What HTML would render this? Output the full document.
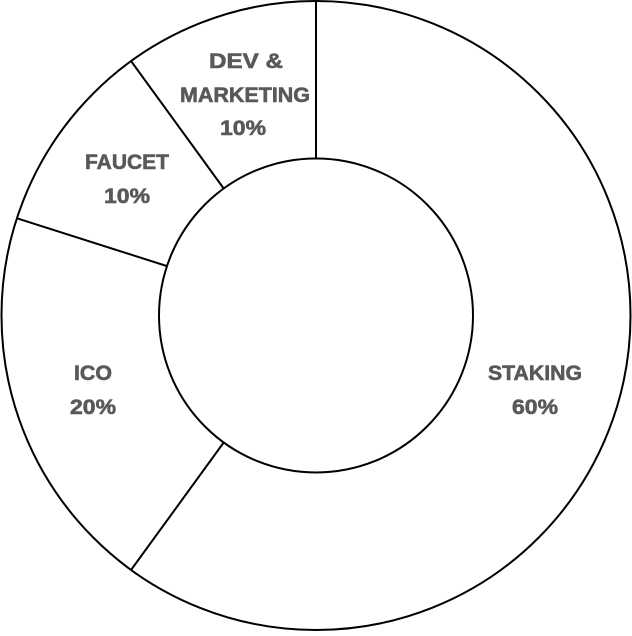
<!DOCTYPE html>
<html><head><style>html,body{margin:0;padding:0;background:#fff;}
text{font-family:"Liberation Sans",sans-serif;font-weight:bold;font-size:21px;fill:#595959;stroke:#595959;stroke-width:0.6px;}</style></head>
<body>
<svg width="632" height="631" viewBox="0 0 632 631" xmlns="http://www.w3.org/2000/svg">
<g fill="none" stroke="#000" stroke-width="2">
<circle cx="316" cy="315.5" r="314.5"/>
<circle cx="316" cy="315.5" r="157"/>
<line x1="316" y1="1" x2="316" y2="158.5"/>
<line x1="223.7" y1="442.5" x2="131.1" y2="569.9"/>
<line x1="166.7" y1="266" x2="17" y2="218.3"/>
<line x1="223.7" y1="188.5" x2="131.1" y2="61.1"/>
</g>
<g text-anchor="middle">
<text x="535" y="380" textLength="94" lengthAdjust="spacingAndGlyphs">STAKING</text>
<text x="535" y="414" textLength="46" lengthAdjust="spacingAndGlyphs">60%</text>
<text x="93" y="380" textLength="38" lengthAdjust="spacingAndGlyphs">ICO</text>
<text x="93" y="414" textLength="46" lengthAdjust="spacingAndGlyphs">20%</text>
<text x="127" y="169" textLength="84" lengthAdjust="spacingAndGlyphs">FAUCET</text>
<text x="127" y="203" textLength="46" lengthAdjust="spacingAndGlyphs">10%</text>
<text x="246" y="68" textLength="74" lengthAdjust="spacingAndGlyphs">DEV &amp;</text>
<text x="245" y="102" textLength="130" lengthAdjust="spacingAndGlyphs">MARKETING</text>
<text x="243" y="135" textLength="46" lengthAdjust="spacingAndGlyphs">10%</text>
</g>
</svg>
</body></html>
